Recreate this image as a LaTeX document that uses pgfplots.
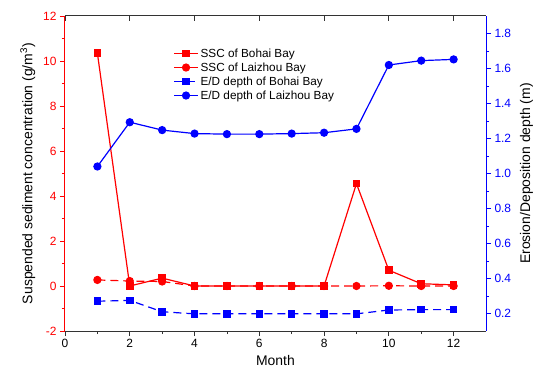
\documentclass[border=0pt]{standalone}
\usepackage{pgfplots}
\pgfplotsset{compat=1.18}
\usepackage{fontspec}
\setmainfont{Liberation Sans}
\definecolor{myred}{RGB}{255,0,0}
\definecolor{myblue}{RGB}{0,0,255}
\begin{document}
\begin{tikzpicture}
\pgfplotsset{
  every axis/.append style={
    scale only axis, width=421bp, height=315bp,
    xmin=0, xmax=13,
    /pgf/number format/assume math mode=true,
    tick label style={font=\fontsize{12}{14}\selectfont},
    label style={font=\fontsize{14}{16}\selectfont},
    major tick length=5bp, minor tick length=3bp,
    every axis plot/.append style={line width=1.2bp},
  },
  mylegimg/.style={legend image code/.code={
    \draw[mark repeat=2,mark phase=2,##1] plot coordinates {(0bp,0bp) (12bp,0bp) (24bp,0bp)};}},
}
% left axis (SSC)
\begin{axis}[
  name=main,
  ymin=-2, ymax=12,
  axis y line*=left,
  xtick={0,2,...,12}, minor x tick num=1,
  xtick pos=bottom,
  ytick={-2,0,...,12}, minor y tick num=1,
  tick align=outside,
  axis line style={line width=1bp, black!80},
  y axis line style={myred, line width=1bp},
  y tick style={myred, line width=0.8bp},
  x tick style={black!80, line width=0.8bp},
  yticklabel style={text=myred},
  xlabel={Month},
  ylabel={Suspended sediment concentration (g/m\textsuperscript{3})},
  xlabel style={yshift=-1bp},
  ylabel style={yshift=1bp},
]
\addplot[myred, mark=square*, mark size=3.2bp, mark options={solid}] coordinates {
(1,10.35) (2,0.0) (3,0.35) (4,0.0) (5,0.0) (6,0.0) (7,0.0) (8,0.0) (9,4.55) (10,0.7) (11,0.1) (12,0.05)};
\addplot[myred, dash pattern=on 8bp off 5bp, mark=*, mark size=3.5bp, mark options={solid}] coordinates {
(1,0.27) (2,0.22) (3,0.2) (4,0.0) (5,0.0) (6,0.0) (7,0.0) (8,0.0) (9,0.0) (10,0.01) (11,0.0) (12,0.0)};
\end{axis}
% top ticks
\begin{axis}[
  ymin=-2, ymax=12,
  axis y line=none, axis x line*=top,
  axis line style={line width=1bp, black!80},
  xtick={0,2,...,12}, xticklabels={}, minor x tick num=0,
  tick align=inside,
  x tick style={black!80, line width=0.8bp},
]
\end{axis}
% right axis (E/D depth)
\begin{axis}[
  ymin=0.1, ymax=1.9,
  axis y line*=right, axis x line=none,
  ytick={0.2,0.4,...,1.81}, minor y tick num=1,
  tick align=outside,
  y axis line style={myblue, line width=1bp},
  y tick style={myblue, line width=0.8bp},
  yticklabel style={text=myblue, /pgf/number format/.cd, fixed, fixed zerofill, precision=1},
  ylabel={Erosion/Deposition depth (m)},
  ylabel style={yshift=-2bp},
  mylegimg,
  legend style={draw=none, fill=none, at={(0.25,0.91)}, anchor=north west,
    font=\fontsize{11.8}{13}\selectfont, row sep=0bp,
    legend cell align=left},
]
\addlegendimage{myred, line width=1.2bp, mark=square*, mark size=3.2bp, mark options={solid}}
\addlegendentry{SSC of Bohai Bay}
\addlegendimage{myred, line width=1.2bp, mark=*, mark size=3.5bp, mark options={solid}}
\addlegendentry{SSC of Laizhou Bay}
\addplot[myblue, dash pattern=on 8bp off 5bp, mark=square*, mark size=3.2bp, mark options={solid}] coordinates {
(1,0.27) (2,0.275) (3,0.21) (4,0.198) (5,0.198) (6,0.198) (7,0.198) (8,0.198) (9,0.198) (10,0.22) (11,0.222) (12,0.222)};
\addlegendentry{E/D depth of Bohai Bay}
\addplot[myblue, mark=*, mark size=3.5bp, mark options={solid}] coordinates {
(1,1.04) (2,1.293) (3,1.248) (4,1.228) (5,1.225) (6,1.225) (7,1.228) (8,1.233) (9,1.255) (10,1.62) (11,1.645) (12,1.652)};
\addlegendentry{E/D depth of Laizhou Bay}
\end{axis}
\pgfresetboundingbox
\path ([shift={(-65bp,-58bp)}]main.south west) rectangle ([shift={(64bp,16bp)}]main.north east);
\end{tikzpicture}
\end{document}
